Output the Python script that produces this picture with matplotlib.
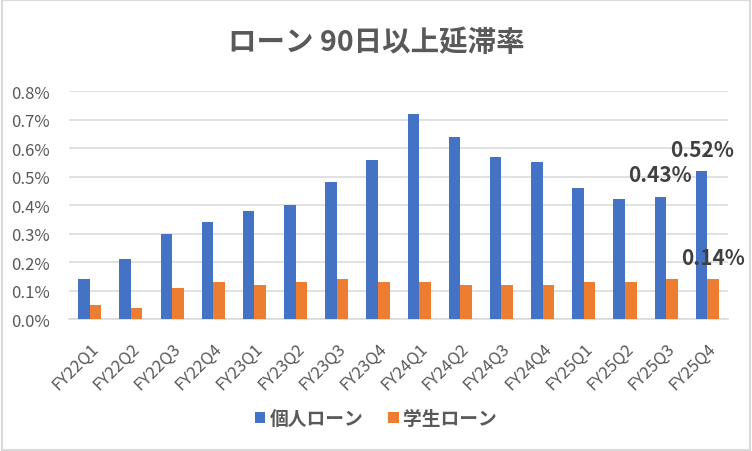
import numpy as np
import matplotlib
matplotlib.use("Agg")
import matplotlib.pyplot as plt
from matplotlib.patches import Rectangle
from matplotlib.ticker import FuncFormatter

plt.rcParams['font.family'] = ['Noto Sans CJK JP', 'DejaVu Sans']

# data (percent)
quarters = ['FY22Q1', 'FY22Q2', 'FY22Q3', 'FY22Q4',
            'FY23Q1', 'FY23Q2', 'FY23Q3', 'FY23Q4',
            'FY24Q1', 'FY24Q2', 'FY24Q3', 'FY24Q4',
            'FY25Q1', 'FY25Q2', 'FY25Q3', 'FY25Q4']
personal = [0.14, 0.21, 0.30, 0.34, 0.38, 0.40, 0.48, 0.56,
            0.72, 0.64, 0.57, 0.55, 0.46, 0.42, 0.43, 0.52]
student = [0.05, 0.04, 0.11, 0.13, 0.12, 0.13, 0.14, 0.13,
           0.13, 0.12, 0.12, 0.12, 0.13, 0.13, 0.14, 0.14]
series_names = ['個人ローン', '学生ローン']
title = 'ローン 90日以上延滞率'

blue = '#4472c4'
orange = '#ed7d31'
txt = '#595959'

fig = plt.figure(figsize=(7.52, 4.52), dpi=100)
ax = fig.add_axes([0.092, 0.292, 0.876, 0.504])

x = np.arange(len(quarters))
w = 0.28
b1 = ax.bar(x - w / 2, personal, w, color=blue, label=series_names[0], zorder=3)
b2 = ax.bar(x + w / 2, student, w, color=orange, label=series_names[1], zorder=3)

ax.set_xlim(-0.5, len(quarters) - 0.5)
ax.set_ylim(0, 0.8)
ax.set_yticks(np.arange(0, 0.81, 0.1))
ax.yaxis.set_major_formatter(FuncFormatter(lambda v, p: '%.1f%%' % v))
ax.set_xticks(x)
ax.set_xticklabels(quarters, rotation=45, ha='right', rotation_mode='anchor')
ax.tick_params(axis='y', length=0, labelsize=12, colors=txt, pad=14)
ax.tick_params(axis='x', length=0, labelsize=12, colors=txt, pad=15)
ax.grid(axis='y', color='#d9d9d9', linewidth=1.1, zorder=0)
for s in ['top', 'right', 'left']:
    ax.spines[s].set_visible(False)
ax.spines['bottom'].set_color('#d9d9d9')
ax.spines['bottom'].set_linewidth(1.1)

# data labels on the last points only
lbl = dict(ha='center', va='bottom', fontsize=15, fontweight='bold', color='#404040',
           textcoords='offset points', zorder=5)
ax.annotate('%.2f%%' % personal[14], (x[14] - w / 2, personal[14]), xytext=(0, 8), **lbl)
ax.annotate('%.2f%%' % personal[15], (x[15] - w / 2, personal[15]), xytext=(0, 8), **lbl)
ax.annotate('%.2f%%' % student[15], (x[15] + w / 2, student[15]), xytext=(0, 8), **lbl)

fig.text(0.5, 0.905, title, ha='center', va='center', fontsize=20.5,
         fontweight='bold', color=txt)

fig.legend(handles=[b1, b2], loc='center', bbox_to_anchor=(0.5, 0.072), ncol=2,
           frameon=False, handlelength=0.55, handleheight=0.55,
           handletextpad=0.25, columnspacing=1.3, labelcolor=txt,
           prop={'weight': 'bold', 'size': 13.5})

fig.add_artist(Rectangle((0.002, 0.003), 0.996, 0.994, transform=fig.transFigure,
                         fill=False, edgecolor='#d9d9d9', linewidth=1.5))

fig.savefig('out.png', dpi=100, facecolor='white')
